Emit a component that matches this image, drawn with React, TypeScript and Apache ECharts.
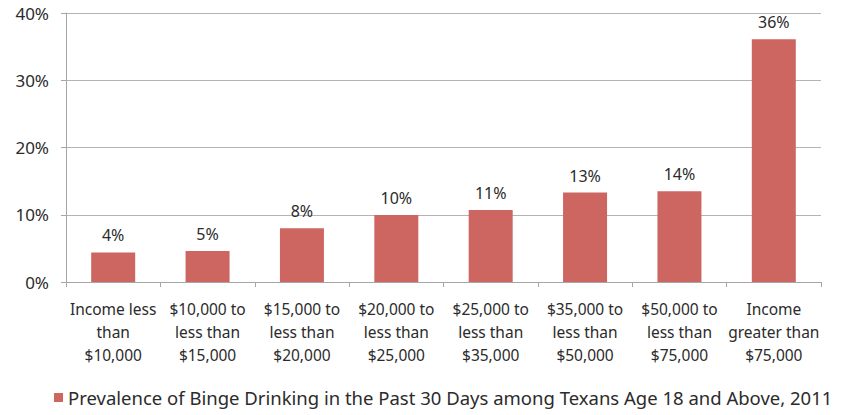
import React, { useEffect, useRef } from "react";
import * as echarts from "echarts";

const categories = [
  "Income less\nthan\n$10,000",
  "$10,000 to\nless than\n$15,000",
  "$15,000 to\nless than\n$20,000",
  "$20,000 to\nless than\n$25,000",
  "$25,000 to\nless than\n$35,000",
  "$35,000 to\nless than\n$50,000",
  "$50,000 to\nless than\n$75,000",
  "Income\ngreater than\n$75,000",
];
const values = [4.4, 4.6, 8.0, 9.95, 10.7, 13.3, 13.5, 36.1];
const valueLabels = ["4%", "5%", "8%", "10%", "11%", "13%", "14%", "36%"];
const yTicks = [0, 10, 20, 30, 40];
const seriesName = "Prevalence of Binge Drinking in the Past 30 Days among Texans Age 18 and Above, 2011";

const FONT = "'Noto Sans', sans-serif";

export default function App() {
  const ref = useRef<HTMLDivElement>(null);
  useEffect(() => {
    if (!ref.current) return;
    const chart = echarts.init(ref.current, undefined, { renderer: "svg" });
    chart.setOption({
      animation: false,
      textStyle: { fontFamily: FONT },
      grid: { left: 66, right: 28, top: 13, bottom: 133 },
      legend: {
        data: [seriesName],
        bottom: 3,
        left: 49,
        icon: "rect",
        itemWidth: 9,
        itemHeight: 9,
        itemGap: 6,
        textStyle: { fontFamily: FONT, fontSize: 18.5, color: "#2b2b2b" },
      },
      xAxis: {
        type: "category",
        data: categories,
        axisLine: { lineStyle: { color: "#A6A6A6" } },
        axisTick: { show: true, length: 5, alignWithLabel: false, lineStyle: { color: "#A6A6A6" } },
        axisLabel: {
          interval: 0,
          fontFamily: FONT,
          fontSize: 15.5,
          lineHeight: 23,
          color: "#2b2b2b",
          margin: 15,
        },
      },
      yAxis: {
        type: "value",
        min: 0,
        max: 40,
        interval: 10,
        axisLine: { show: true, lineStyle: { color: "#A6A6A6" } },
        axisTick: { show: true, length: 5, lineStyle: { color: "#A6A6A6" } },
        splitLine: { lineStyle: { color: "#B3B3B3" } },
        axisLabel: {
          fontFamily: FONT,
          fontSize: 17,
          color: "#2b2b2b",
          margin: 17,
          formatter: (v: number) => (yTicks.includes(v) ? `${v}%` : ""),
        },
      },
      series: [
        {
          name: seriesName,
          type: "bar",
          data: values,
          barWidth: 44,
          itemStyle: { color: "#CD6660" },
          label: {
            show: true,
            position: "top",
            distance: 9,
            fontFamily: FONT,
            fontSize: 16,
            color: "#2b2b2b",
            formatter: (p: any) => valueLabels[p.dataIndex],
          },
        },
      ],
    });
    return () => chart.dispose();
  }, []);
  return <div ref={ref} style={{ width: 849, height: 415, position: "absolute", left: 0, top: 0 }} />;
}
